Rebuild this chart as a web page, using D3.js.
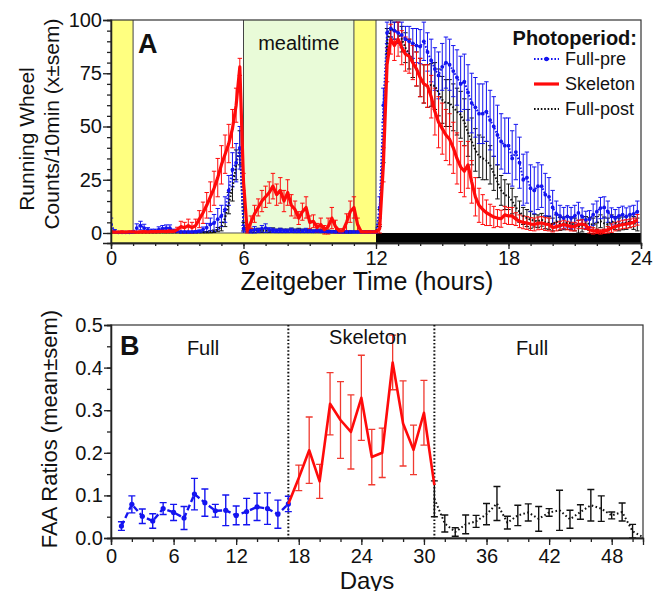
<!DOCTYPE html>
<html><head><meta charset="utf-8">
<script src="https://cdn.jsdelivr.net/npm/d3@7"></script>
<style>
body{margin:0;background:#fff}
svg{display:block}
text{font-family:"Liberation Sans",Arial,Helvetica,sans-serif;fill:#111}
</style>
</head><body>
<svg id="c" width="654" height="591"></svg>
<script>
// ---------------- Panel A data (10-min bins, ZT 0..24) ----------------
const binsPerHour = 6;
const skeleton = [
0.5,0.4,0.4,0.5,0.4,0.5, 0.5,0.4,0.5,0.6,0.5,0.6, 0.6,0.7,0.8,0.7,0.9,0.8, 1.5,3,2.5,3.5,2.5,3.5,
6.5,9.5,13,17,21,26, 32,37,42,49,60,78, 24,1,5,9,12,15, 17,19,22,18,20,15,
19,13,11,7,10,12, 5,5.5,2.5,4,1.5,3, 7,3,1,1,5,10, 12,4,0.5,0.5,0.5,0.5,
0.5,2,32,79,91,88, 91,87,84,83,80,77, 73,70,69,64,57,52, 49,46,44,40,35,31,
29,32,24,17,13,11, 9.5,8.5,7.5,7,6.7,8.5, 8,8,6.5,5.5,5,4.7, 4.2,4,4.5,4.7,4.2,4,
2.5,3,3.5,4,3.5,3, 3,4,4.2,3.6,1.5,1, 0.8,0.5,0.8,1.5,2.3,3, 3.5,4,4.2,4.5,5,6.2];
const skeletonErr = [
0.4,0.3,0.3,0.4,0.3,0.4, 0.4,0.3,0.4,0.5,0.4,0.5, 0.5,0.6,0.6,0.6,0.7,0.6, 1.2,2.5,2.5,3,2.5,3,
4,5,6,7,8,9, 9,9,9,9,8,4, 4,1,3,4,4,5, 5,5,6,5,6,5,
6,5,4,3,4,5, 3,3,2,3,2,4, 5,3,1,1,4,5, 5,3,0.4,0.4,0.4,0.4,
0.4,2,8,8,7,7, 8,8,8,8,8,8, 9,9,10,10,11,12, 12,12,12,12,12,12,
12,11,10,9,8,7, 6,5,5,4,4,4, 4,4,3,3,3,3, 3,3,3,3,3,3,
2,2,2,2,2,2, 2,2,2,2,1.5,1.5, 1,1,1,1.5,2,2, 2,2,2,2,2,2.5];
const fullPre = [
4,0.8,0.3,0.3,0.3,0.3, 0.5,2.3,3.5,2.3,1.5,1, 1,1.6,2,2.3,2.3,1, 0.8,0.5,0.5,0.5,0.5,0.6,
0.8,1.6,2.5,4,4.7,6.5, 8,11,20,29.7,33,40, 2,1.5,1,1.5,1.2,2, 2.3,1.5,1.2,1,1.2,1,
1,1.2,1,1,1,1.2, 1,0.8,1,0.8,0.8,0.6, 0.6,0.5,0.5,0.5,0.5,0.5, 0.5,0.5,0.5,0.5,0.5,0.5,
0.5,12,60,94,96,95, 94,93,91,90,89,88, 87.5,90,85,81,77,74, 78,80,79,76,73,70,
71,66,61,59,56,56, 57,53,50,46,43,41, 41,35,38,33,25,26, 21,20,22,22,18,17,
12,9,8,7,7.8,7, 8,9.4,7.8,6.2,6.5,8.6, 10,11.7,12,10,7.8,7, 8,8.6,7.8,8.6,9,10];
const fullPreErr = [
3,0.8,0.3,0.3,0.3,0.3, 0.4,2,2,1.8,1,0.8, 0.8,1.3,1.5,1.5,1.5,0.8, 0.5,0.4,0.4,0.4,0.4,0.5,
0.6,1.2,2,3,4,5, 5,6,7,8,9,10, 1.5,1,1,1.5,1,1.5, 2,1,1,0.8,1,0.8,
0.8,1,0.8,0.8,0.8,1, 0.8,0.6,0.8,0.6,0.6,0.5, 0.5,0.4,0.4,0.4,0.4,0.4, 0.4,0.4,0.4,0.4,0.4,0.4,
0.4,5,8,5,4,4, 5,6,6,7,7,8, 8,9,9,10,10,11, 11,12,12,12,13,13,
13,13,14,14,14,14, 14,14,14,14,13,13, 13,13,13,12,12,12, 11,11,11,10,10,9,
8,6,5,5,5,5, 5,5,4,4,4,5, 5,5,5,5,4,4, 4,4,4,4,4,5];
const fullPost = [
0.3,0.3,0.3,0.3,0.3,0.3, 0.3,0.3,0.3,0.3,0.3,0.3, 0.3,0.3,0.3,0.3,0.3,0.3, 0.3,0.3,0.3,0.3,0.3,0.3,
0.3,0.3,0.4,0.6,0.8,1.6, 3,7,14,21,32,40, 3,1.5,1.2,1,1.2,1, 1.2,1,1.4,1,1.2,1,
1,1.3,1,1.2,1,1, 1,0.8,0.8,1,0.8,0.8, 0.6,0.6,0.5,0.5,0.5,0.5, 0.5,0.5,0.5,0.5,0.5,0.5,
0.5,7,40,90,96,95, 94,91,87,84,81,77, 73,70,69,69.5,69,66, 62.5,61,61,59,57,55.5,
52,47,43,39,36,35, 34,32,28,24,20,18, 17,15,12,10,8,7, 6.2,5.8,5.5,6.2,5,4.7,
4,5.5,4.2,4.5,4.7,4.5, 4,3,3.5,4.7,4.2,4, 4.7,5.5,4.5,4,5.5,4.7, 4,4.5,4.7,5.5,4.7,4];
const fullPostErr = [
0.2,0.2,0.2,0.2,0.2,0.2, 0.2,0.2,0.2,0.2,0.2,0.2, 0.2,0.2,0.2,0.2,0.2,0.2, 0.2,0.2,0.2,0.2,0.2,0.2,
0.2,0.2,0.3,0.5,0.6,1, 2,4,5,6,7,8, 2,1,1,0.8,1,0.8, 1,0.8,1,0.8,1,0.8,
0.8,1,0.8,1,0.8,0.8, 0.8,0.6,0.6,0.8,0.6,0.6, 0.5,0.5,0.5,0.5,0.5,0.5, 0.4,0.4,0.4,0.4,0.4,0.4,
0.4,4,7,6,4,4, 5,6,7,7,8,8, 9,9,10,10,11,11, 11,11,11,11,11,11,
11,11,11,10,10,10, 9,9,8,8,7,7, 6,6,5,5,4,4, 4,3,3,3,3,3,
3,3,3,3,3,3, 3,3,3,3,3,3, 3,3,3,3,3,3, 3,3,3,3,3,3];
const xTicksA = [0, 6, 12, 18, 24];
const yTicksA = [0, 25, 50, 75, 100];
const lightBands = [[0, 1], [11, 12]];
const mealBand = [6, 11];

// ---------------- Panel B data (days) ----------------
const daysPre = [1,2,3,4,5,6,7,8,9,10,11,12,13,14,15,16,17];
const faaPre = [0.028,0.079,0.051,0.040,0.069,0.060,0.047,0.103,0.083,0.064,0.065,0.053,0.062,0.073,0.069,0.056,0.080];
const faaPreErr = [0.010,0.020,0.017,0.017,0.014,0.019,0.027,0.037,0.032,0.015,0.036,0.022,0.031,0.032,0.037,0.033,0.018];
const daysSkel = [17,18,19,20,21,22,23,24,25,26,27,28,29,30,31];
const faaSkel = [0.080,0.141,0.206,0.133,0.315,0.277,0.249,0.329,0.190,0.200,0.412,0.269,0.207,0.294,0.124];
const faaSkelErr = [0,0.030,0.078,0.040,0.073,0.090,0.087,0.100,0.065,0.058,0.064,0.100,0.058,0.076,0];
const daysPost = [31,32,33,34,35,36,37,38,39,40,41,42,43,44,45,46,47,48,49,50,51];
const faaPost = [0.092,0.034,0.014,0.032,0.039,0.056,0.081,0.036,0.053,0.060,0.045,0.060,0.065,0.044,0.061,0.077,0.069,0.053,0.061,0.016,0.002];
const faaPostErr = [0.042,0.020,0.010,0.022,0.014,0.025,0.040,0.015,0.024,0.020,0.029,0.009,0.047,0.021,0.017,0.037,0.030,0.008,0.021,0.016,0];
const xTicksB = [0, 6, 12, 18, 24, 30, 36, 42, 48];
const yTicksB = [0, 0.1, 0.2, 0.3, 0.4, 0.5];
const phaseDividers = [17, 31];

const BLUE = "#1414f0", RED = "#ff0a0a", BLACK = "#111";
const svg = d3.select("#c");
svg.append("rect").attr("width", 654).attr("height", 591).attr("fill", "#fff");

// ================= PANEL A =================
const xA = d3.scaleLinear([0, 24], [111, 641]);
const yA = d3.scaleLinear([-4.7, 100], [243, 20]);
const tA = d3.range(skeleton.length).map(i => i / binsPerHour);
const gA = svg.append("g");

svg.append("clipPath").attr("id", "clipA").append("rect")
  .attr("x", xA(0)).attr("y", yA(100)).attr("width", xA(24) - xA(0)).attr("height", yA(-4.7) - yA(100));

// backgrounds
gA.selectAll(".light").data(lightBands).join("rect")
  .attr("x", d => xA(d[0])).attr("width", d => xA(d[1]) - xA(d[0]))
  .attr("y", yA(100)).attr("height", yA(-4.7) - yA(100)).attr("fill", "#ffff80");
gA.append("rect").attr("x", xA(mealBand[0])).attr("width", xA(mealBand[1]) - xA(mealBand[0]))
  .attr("y", yA(100)).attr("height", yA(0) - yA(100)).attr("fill", "#e9fbd8");
// bottom light/dark bar
gA.append("rect").attr("x", xA(0)).attr("width", xA(12) - xA(0)).attr("y", yA(0)).attr("height", yA(-4.7) - yA(0)).attr("fill", "#ffff80");
gA.append("rect").attr("x", xA(12)).attr("width", xA(24) - xA(12)).attr("y", yA(0)).attr("height", yA(-4.7) - yA(0)).attr("fill", "#000");
gA.append("line").attr("x1", xA(0)).attr("x2", xA(12)).attr("y1", yA(0)).attr("y2", yA(0)).attr("stroke", "#555").attr("stroke-width", 1);
gA.selectAll(".div").data([1, 6, 11, 12]).join("line")
  .attr("x1", d => xA(d)).attr("x2", d => xA(d)).attr("y1", yA(100)).attr("y2", yA(0))
  .attr("stroke", "#444").attr("stroke-width", 1);

gA.append("text").attr("x", (xA(mealBand[0]) + xA(mealBand[1])) / 2).attr("y", 50)
  .attr("text-anchor", "middle").attr("font-size", 20).text("mealtime");

function errBars(g, xs, vals, errs, xScale, yScale, color, cap, sw) {
  const p = d3.path();
  vals.forEach((v, i) => {
    const e = errs[i];
    if (!e) return;
    const x = xScale(xs[i]), y1 = yScale(v + e), y2 = yScale(Math.max(v - e, yScale.domain()[0] < 0 ? -0.5 : 0));
    p.moveTo(x, y1); p.lineTo(x, y2);
    p.moveTo(x - cap, y1); p.lineTo(x + cap, y1);
    p.moveTo(x - cap, y2); p.lineTo(x + cap, y2);
  });
  g.append("path").attr("d", p.toString()).attr("stroke", color).attr("stroke-width", sw).attr("fill", "none");
}
function seriesLine(g, xs, vals, xScale, yScale, color, sw, dash) {
  const line = d3.line().x((d, i) => xScale(xs[i])).y(d => yScale(d));
  const path = g.append("path").datum(vals).attr("d", line).attr("fill", "none")
    .attr("stroke", color).attr("stroke-width", sw).attr("stroke-linejoin", "round");
  if (dash) path.attr("stroke-dasharray", dash);
}

const dA = gA.append("g").attr("clip-path", "url(#clipA)");
errBars(dA, tA, fullPost, fullPostErr, xA, yA, BLACK, 2.2, 1);
errBars(dA, tA, fullPre, fullPreErr, xA, yA, BLUE, 2.2, 1);
errBars(dA, tA, skeleton, skeletonErr, xA, yA, RED, 2.2, 1);
seriesLine(dA, tA, fullPost, xA, yA, BLACK, 2, "1.6,1.8");
seriesLine(dA, tA, fullPre, xA, yA, BLUE, 2, "1.6,1.8");
dA.selectAll(".mk").data(fullPre).join("circle")
  .attr("cx", (d, i) => xA(tA[i])).attr("cy", d => yA(d)).attr("r", 1.9).attr("fill", BLUE);
seriesLine(dA, tA, skeleton, xA, yA, RED, 3.2, null);

// frame & axes A
gA.append("rect").attr("x", xA(0)).attr("y", yA(100)).attr("width", xA(24) - xA(0)).attr("height", yA(-4.7) - yA(100))
  .attr("fill", "none").attr("stroke", "#333").attr("stroke-width", 1.2);

function styleAxis(g, fs) {
  g.select(".domain").attr("stroke", "#222").attr("stroke-width", 1.3);
  g.selectAll(".tick line").attr("stroke", "#222").attr("stroke-width", 1.3);
  g.selectAll("text").attr("font-size", fs).attr("fill", "#111")
    .attr("font-family", '"Liberation Sans",Arial,sans-serif');
}
const axAy = svg.append("g").attr("transform", `translate(${xA(0)},0)`)
  .call(d3.axisLeft(yA).tickValues(d3.range(0, 101, 5)).tickSize(4).tickFormat(""));
styleAxis(axAy, 20);
const axAy2 = svg.append("g").attr("transform", `translate(${xA(0)},0)`)
  .call(d3.axisLeft(yA).tickValues(yTicksA).tickSize(8).tickPadding(1));
styleAxis(axAy2, 20);
const axAx = svg.append("g").attr("transform", `translate(0,${yA(-4.7)})`)
  .call(d3.axisBottom(xA).tickValues(d3.range(0, 25, 1)).tickSize(3).tickFormat(""));
styleAxis(axAx, 20);
const axAx2 = svg.append("g").attr("transform", `translate(0,${yA(-4.7)})`)
  .call(d3.axisBottom(xA).tickValues(xTicksA).tickSize(6).tickPadding(2));
styleAxis(axAx2, 20);

svg.append("text").attr("x", 138).attr("y", 53).attr("font-size", 27).attr("font-weight", "bold").text("A");

// A axis titles
svg.append("text").attr("transform", "translate(34,139) rotate(-90)").attr("text-anchor", "middle")
  .attr("font-size", 21).text("Running Wheel");
svg.append("text").attr("transform", "translate(59,124) rotate(-90)").attr("text-anchor", "middle")
  .attr("font-size", 21).text("Counts/10min (x±sem)");
svg.append("text").attr("x", 367).attr("y", 290).attr("text-anchor", "middle").attr("font-size", 25)
  .text("Zeitgeber Time (hours)");

// legend
svg.append("text").attr("x", 637).attr("y", 45).attr("text-anchor", "end").attr("font-size", 20)
  .attr("font-weight", "bold").text("Photoperiod:");
const legend = [
  {label: "Full-pre", color: BLUE, sw: 2, dash: "1.6,1.8", marker: true, y: 59},
  {label: "Skeleton", color: RED, sw: 3.2, dash: null, marker: false, y: 84},
  {label: "Full-post", color: BLACK, sw: 2, dash: "1.6,1.8", marker: false, y: 109}
];
legend.forEach(l => {
  const ln = svg.append("line").attr("x1", 534).attr("x2", 559).attr("y1", l.y).attr("y2", l.y)
    .attr("stroke", l.color).attr("stroke-width", l.sw);
  if (l.dash) ln.attr("stroke-dasharray", l.dash);
  if (l.marker) svg.append("circle").attr("cx", 546.5).attr("cy", l.y).attr("r", 2.3).attr("fill", l.color);
  svg.append("text").attr("x", 565).attr("y", l.y + 6).attr("font-size", 18).text(l.label);
});

// ================= PANEL B =================
const xB = d3.scaleLinear([0, 51], [111, 643]);
const yB = d3.scaleLinear([0, 0.5], [538, 325]);
const gB = svg.append("g");

gB.append("rect").attr("x", xB(0)).attr("y", yB(0.5)).attr("width", xB(51) - xB(0)).attr("height", yB(0) - yB(0.5))
  .attr("fill", "none").attr("stroke", "#333").attr("stroke-width", 1.2);
gB.selectAll(".pd").data(phaseDividers).join("line")
  .attr("x1", d => xB(d)).attr("x2", d => xB(d)).attr("y1", yB(0.5)).attr("y2", yB(0))
  .attr("stroke", "#111").attr("stroke-width", 2).attr("stroke-dasharray", "1.6,2");

errBars(gB, daysPre, faaPre, faaPreErr, xB, yB, BLUE, 3.5, 1.4);
errBars(gB, daysSkel, faaSkel, faaSkelErr, xB, yB, "#f03a30", 3.5, 1.3);
errBars(gB, daysPost, faaPost, faaPostErr, xB, yB, BLACK, 3.5, 1.4);
seriesLine(gB, daysPre, faaPre, xB, yB, BLUE, 2.4, "6,3");
gB.selectAll(".mkB").data(faaPre).join("circle")
  .attr("cx", (d, i) => xB(daysPre[i])).attr("cy", d => yB(d)).attr("r", 2.6).attr("fill", BLUE);
seriesLine(gB, daysSkel, faaSkel, xB, yB, RED, 2.6, null);
seriesLine(gB, daysPost, faaPost, xB, yB, BLACK, 2, "1.6,2.4");

const axBy = svg.append("g").attr("transform", `translate(${xB(0)},0)`)
  .call(d3.axisLeft(yB).tickValues(d3.range(0, 0.51, 0.05)).tickSize(4).tickFormat(""));
styleAxis(axBy, 20);
const axBy2 = svg.append("g").attr("transform", `translate(${xB(0)},0)`)
  .call(d3.axisLeft(yB).tickValues(yTicksB).tickSize(7).tickPadding(1).tickFormat(d3.format(".1f")));
styleAxis(axBy2, 20);
const axBx = svg.append("g").attr("transform", `translate(0,${yB(0)})`)
  .call(d3.axisBottom(xB).tickValues(d3.range(0, 51, 2)).tickSize(4).tickFormat(""));
styleAxis(axBx, 20);
const axBx2 = svg.append("g").attr("transform", `translate(0,${yB(0)})`)
  .call(d3.axisBottom(xB).tickValues(xTicksB).tickSize(7).tickPadding(4));
styleAxis(axBx2, 20);

svg.append("text").attr("x", 120).attr("y", 355).attr("font-size", 27).attr("font-weight", "bold").text("B");
svg.append("text").attr("x", 203).attr("y", 355).attr("text-anchor", "middle").attr("font-size", 20).text("Full");
svg.append("text").attr("x", 368).attr("y", 344).attr("text-anchor", "middle").attr("font-size", 20).text("Skeleton");
svg.append("text").attr("x", 532).attr("y", 355).attr("text-anchor", "middle").attr("font-size", 20).text("Full");

svg.append("text").attr("transform", "translate(57,429) rotate(-90)").attr("text-anchor", "middle")
  .attr("font-size", 22).text("FAA Ratios (mean±sem)");
svg.append("text").attr("x", 367).attr("y", 589).attr("text-anchor", "middle").attr("font-size", 24).text("Days");
</script>
</body></html>
